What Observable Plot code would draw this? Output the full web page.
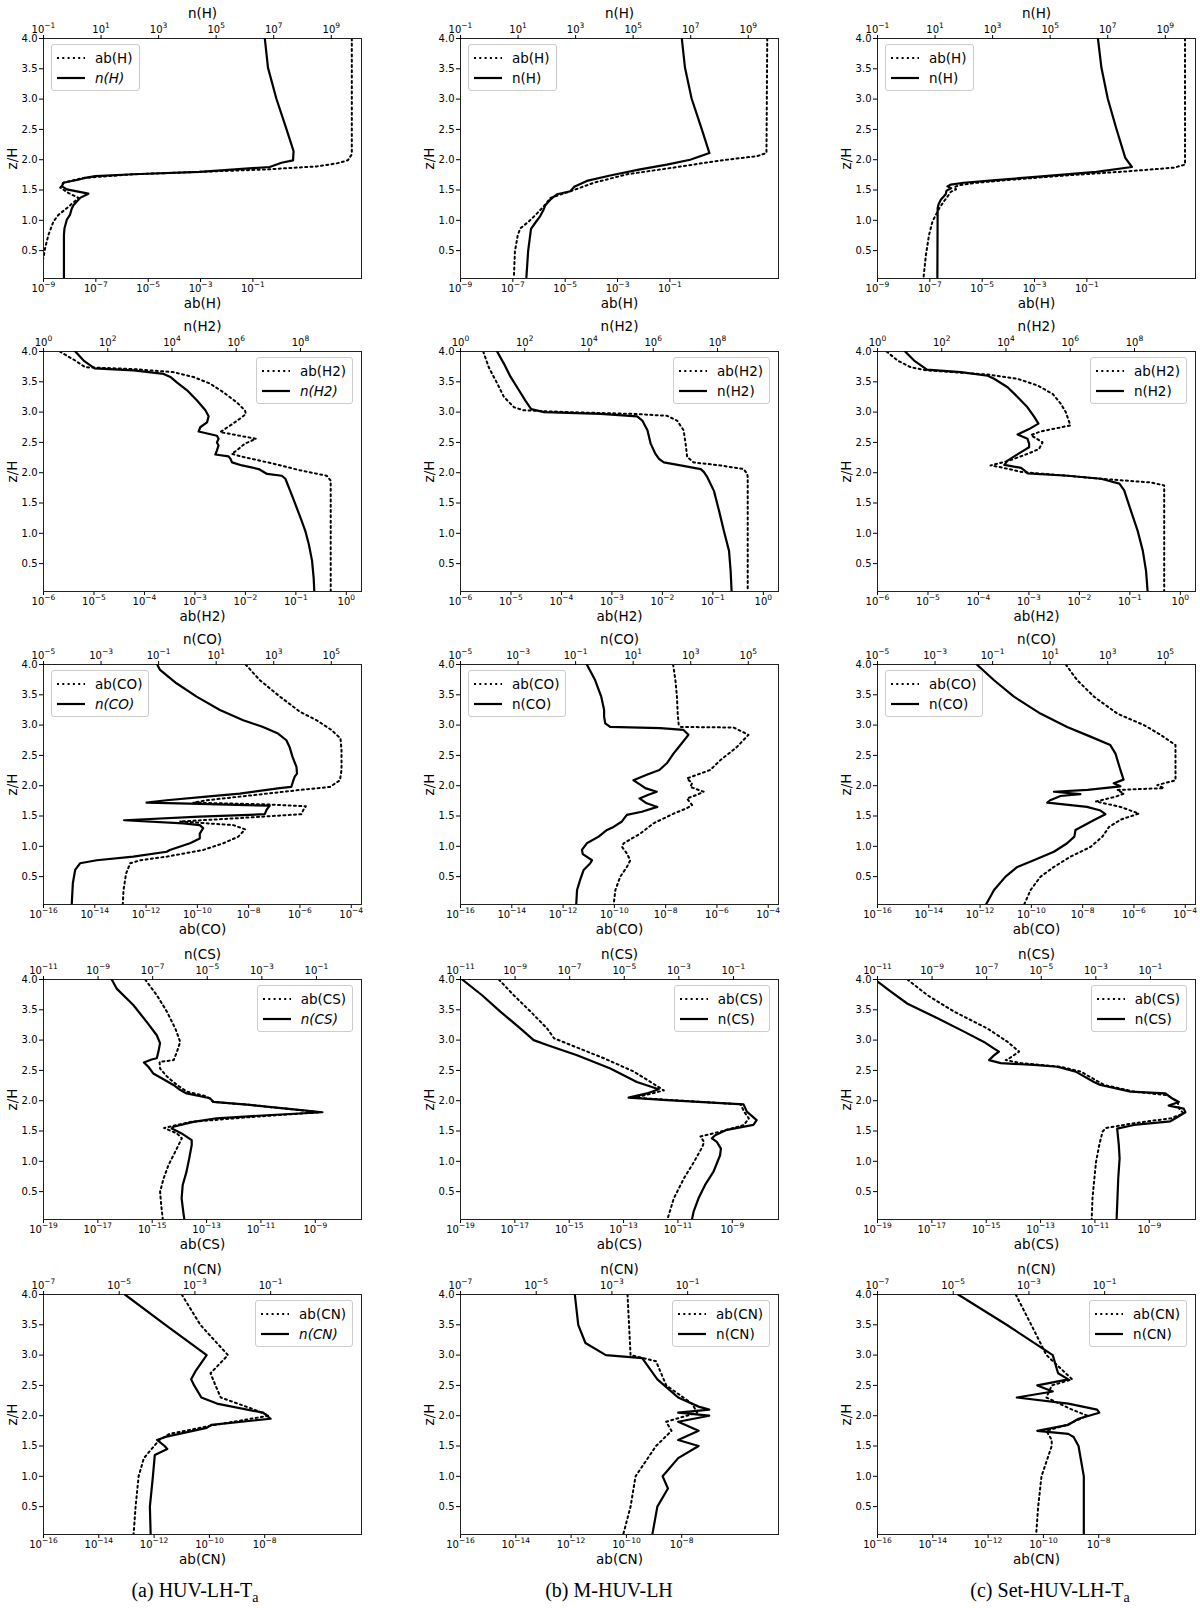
<!DOCTYPE html>
<html><head><meta charset="utf-8">
<script src="https://cdn.jsdelivr.net/npm/d3@7"></script>
<script src="https://cdn.jsdelivr.net/npm/@observablehq/plot@0.6"></script>
<style>
body{margin:0;background:#fff;}
#root{position:relative;width:1200px;height:1608px;font-family:"DejaVu Sans",sans-serif;overflow:hidden;}
.panel{position:absolute;}
.panel > svg{position:absolute;left:0;top:0;}
.panel svg text{font-family:"DejaVu Sans",sans-serif !important;fill:#000;}
g[aria-label="x-axis tick label"] text, g[aria-label="y-axis tick label"] text{font-size:10px !important;}
g[aria-label="x-axis label"] text, g[aria-label="y-axis label"] text{font-size:13.5px !important;}
.legend{position:absolute;background:rgba(255,255,255,0.85);border:1px solid #ccc;border-radius:3px;padding:3px 6px 2px 5px;font-size:13.5px;line-height:20px;color:#000;font-family:"DejaVu Sans",sans-serif;}
.legend .row{display:flex;align-items:center;white-space:nowrap;}
.legend .row svg{margin-right:10px;}
.caption{position:absolute;font-family:"Liberation Serif","Times New Roman",serif;font-size:20px;transform:translateX(-50%);white-space:nowrap;color:#000;}
</style></head>
<body><div id="root"></div>
<script>
// ---------- categories / axis settings (exponents of 10) ----------
const species = ["H", "H2", "CO", "CS", "CN"];
const columns = ["a", "b", "c"];
const captions = ["(a) HUV-LH-T", "(b) M-HUV-LH", "(c) Set-HUV-LH-T"];
const captionSub = ["a", "", "a"];
const abDomainExp = [[-9, 3.15], [-6, 0.3], [-16, -3.6], [-19, -7.3], [-16, -4.5]];
const nDomainExp  = [[-1, 10.05], [0, 9.9], [-5, 6.05], [-11, 0.65], [-7, 1.4]];
const abTickExp = [[-9,-7,-5,-3,-1], [-6,-5,-4,-3,-2,-1,0], [-16,-14,-12,-10,-8,-6,-4], [-19,-17,-15,-13,-11,-9], [-16,-14,-12,-10,-8]];
const nTickExp  = [[-1,1,3,5,7,9], [0,2,4,6,8], [-5,-3,-1,1,3,5], [-11,-9,-7,-5,-3,-1], [-7,-5,-3,-1]];
const zTicks = [0.5, 1.0, 1.5, 2.0, 2.5, 3.0, 3.5, 4.0];
const zDomain = [0.04, 4.0];
const legendSide = ["left", "right", "left", "right", "right"];

// ---------- series: [z/H, log10(value)] ----------
const ab_H_a = [[4.0,2.78],[2.09,2.78],[1.99,2.63],[1.94,2.21],[1.89,1.45],[1.84,-0.47],[1.8,-3.01],[1.76,-5.56],[1.70,-7.47],[1.62,-8.24],[1.54,-8.36],[1.45,-8.04],[1.37,-7.66],[1.32,-7.79],[1.2,-8.11],[1.09,-8.43],[0.98,-8.62],[0.76,-8.81],[0.54,-8.94],[0.38,-9.0],[0.2,-9.15],[0.06,-9.25]];
const n_H_a = [[4.0,6.69],[3.52,6.80],[3.01,7.09],[2.51,7.44],[2.2,7.65],[2.14,7.69],[1.99,7.67],[1.95,7.27],[1.88,6.86],[1.8,4.43],[1.76,2.12],[1.73,0.8],[1.70,0.45],[1.67,0.2],[1.62,-0.31],[1.56,-0.36],[1.51,-0.19],[1.44,0.56],[1.37,0.27],[1.25,0.04],[1.19,-0.02],[1.09,-0.08],[1.01,-0.19],[0.87,-0.27],[0.76,-0.29],[0.06,-0.29]];
const ab_H_b = [[4.0,2.72],[2.11,2.69],[2.06,2.34],[1.98,0.81],[1.87,-0.85],[1.76,-2.63],[1.62,-3.9],[1.48,-4.8],[1.37,-5.56],[1.23,-5.82],[1.09,-6.13],[0.98,-6.39],[0.87,-6.71],[0.76,-6.81],[0.49,-6.92],[0.06,-6.96]];
const n_H_b = [[4.0,6.69],[3.52,6.80],[3.01,7.03],[2.51,7.38],[2.11,7.65],[2.0,6.98],[1.92,6.17],[1.84,5.24],[1.74,4.2],[1.65,3.39],[1.56,2.97],[1.51,2.87],[1.48,2.82],[1.43,2.35],[1.34,2.12],[1.25,1.95],[1.18,1.89],[1.07,1.77],[0.96,1.6],[0.86,1.45],[0.49,1.35],[0.06,1.29]];
const ab_H_c = [[4.0,2.75],[1.92,2.75],[1.87,2.34],[1.81,0.6],[1.74,-1.8],[1.67,-3.9],[1.62,-5.2],[1.58,-5.85],[1.55,-6.07],[1.51,-6.0],[1.47,-6.2],[1.43,-6.26],[1.32,-6.45],[1.2,-6.64],[0.98,-6.9],[0.76,-7.03],[0.43,-7.15],[0.06,-7.24]];
const n_H_c = [[4.0,6.66],[3.52,6.78],[3.01,7.0],[2.51,7.3],[2.03,7.61],[1.88,7.84],[1.80,6.6],[1.72,4.6],[1.66,3.0],[1.62,2.0],[1.59,1.55],[1.56,1.43],[1.53,1.56],[1.49,1.4],[1.43,1.37],[1.34,1.2],[1.26,1.12],[1.2,1.09],[0.06,1.08]];

const ab_H2_a = [[4.0,-5.68],[3.85,-5.37],[3.74,-5.17],[3.71,-4.22],[3.66,-3.43],[3.58,-3.03],[3.47,-2.7],[3.33,-2.44],[3.16,-2.17],[3.03,-2.01],[2.97,-1.99],[2.89,-2.11],[2.78,-2.3],[2.67,-2.5],[2.63,-2.24],[2.56,-1.79],[2.48,-2.01],[2.37,-2.17],[2.31,-2.27],[2.26,-2.04],[2.15,-1.45],[2.04,-0.92],[1.95,-0.39],[1.87,-0.31],[0.04,-0.31]];
const n_H2_a = [[4.0,0.99],[3.85,1.25],[3.72,1.59],[3.69,2.8],[3.63,3.74],[3.58,3.95],[3.49,4.15],[3.36,4.47],[3.19,4.78],[3.03,5.04],[2.93,5.14],[2.83,5.09],[2.75,4.88],[2.68,4.83],[2.61,5.4],[2.56,5.45],[2.5,5.4],[2.45,5.45],[2.37,5.4],[2.3,5.35],[2.27,5.76],[2.23,5.82],[2.17,5.87],[2.12,6.18],[2.06,6.7],[1.98,6.96],[1.95,7.42],[1.9,7.53],[1.7,7.68],[1.48,7.84],[1.26,8.0],[1.04,8.15],[0.82,8.26],[0.55,8.36],[0.27,8.41],[0.04,8.43]];
const ab_H2_b = [[4.0,-5.55],[3.74,-5.44],[3.47,-5.27],[3.25,-5.14],[3.08,-4.94],[3.03,-4.75],[3.0,-3.89],[2.97,-2.57],[2.94,-1.91],[2.86,-1.71],[2.7,-1.58],[2.48,-1.54],[2.26,-1.51],[2.17,-1.38],[2.12,-0.85],[2.06,-0.39],[1.98,-0.32],[1.93,-0.31],[0.04,-0.31]];
const n_H2_b = [[4.0,1.14],[3.8,1.35],[3.58,1.56],[3.36,1.82],[3.19,2.02],[3.05,2.2],[3.0,2.6],[2.97,4.36],[2.93,5.5],[2.86,5.66],[2.7,5.82],[2.48,5.92],[2.31,6.07],[2.23,6.18],[2.17,6.33],[2.12,6.85],[2.06,7.48],[2.01,7.58],[1.93,7.68],[1.7,7.89],[1.37,8.05],[1.04,8.2],[0.71,8.36],[0.38,8.41],[0.04,8.44]];
const ab_H2_c = [[4.0,-5.82],[3.85,-5.6],[3.74,-5.34],[3.69,-5.04],[3.62,-3.82],[3.55,-3.23],[3.44,-2.83],[3.3,-2.53],[3.14,-2.37],[3.0,-2.27],[2.83,-2.2],[2.78,-2.18],[2.68,-2.77],[2.62,-2.96],[2.5,-2.73],[2.39,-2.8],[2.31,-3.03],[2.2,-3.39],[2.12,-3.76],[2.09,-3.56],[2.01,-3.13],[1.95,-2.24],[1.9,-1.58],[1.84,-0.59],[1.79,-0.32],[0.04,-0.32]];
const n_H2_c = [[4.0,0.86],[3.85,1.14],[3.7,1.54],[3.66,2.6],[3.6,3.43],[3.55,3.63],[3.41,4.05],[3.25,4.36],[3.08,4.67],[2.92,4.88],[2.81,5.01],[2.72,4.72],[2.63,4.36],[2.56,4.67],[2.48,4.72],[2.42,4.72],[2.34,4.47],[2.2,4.05],[2.13,3.95],[2.08,4.47],[2.04,4.57],[1.99,4.67],[1.95,5.92],[1.9,6.96],[1.82,7.53],[1.71,7.68],[1.37,7.89],[1.04,8.1],[0.71,8.26],[0.38,8.36],[0.04,8.41]];

const ab_CO_a = [[4.0,-8.12],[3.74,-7.56],[3.47,-6.78],[3.22,-6.0],[3.08,-5.35],[2.92,-4.77],[2.78,-4.42],[2.59,-4.38],[2.26,-4.38],[2.09,-4.44],[1.98,-4.83],[1.93,-6.0],[1.82,-8.34],[1.76,-9.64],[1.72,-10.16],[1.69,-7.17],[1.66,-5.77],[1.6,-5.87],[1.53,-5.94],[1.46,-8.6],[1.41,-10.68],[1.35,-8.6],[1.28,-8.14],[1.16,-8.4],[1.05,-8.99],[0.94,-9.77],[0.83,-11.19],[0.77,-12.23],[0.72,-12.62],[0.55,-12.78],[0.28,-12.88],[0.03,-12.91]];
const n_CO_a = [[4.0,-1.05],[3.91,-0.95],[3.69,-0.38],[3.47,0.32],[3.25,1.13],[3.08,1.94],[2.97,2.63],[2.86,3.15],[2.75,3.44],[2.64,3.55],[2.48,3.65],[2.31,3.79],[2.2,3.81],[2.15,3.73],[2.07,3.67],[1.98,3.61],[1.96,3.21],[1.87,1.82],[1.82,0.66],[1.76,-0.72],[1.72,-1.42],[1.70,0.43],[1.67,2.86],[1.6,2.75],[1.53,2.69],[1.49,0.43],[1.43,-2.2],[1.38,-0.14],[1.35,0.43],[1.3,0.55],[1.21,0.43],[1.13,0.43],[1.05,0.09],[0.94,-0.61],[0.91,-0.72],[0.83,-1.88],[0.77,-3.15],[0.72,-3.73],[0.61,-3.9],[0.39,-3.98],[0.03,-4.02]];
const ab_CO_b = [[4.0,-7.71],[3.74,-7.62],[3.47,-7.56],[3.19,-7.53],[3.0,-7.49],[2.97,-7.4],[2.96,-5.35],[2.84,-4.77],[2.64,-5.22],[2.42,-5.87],[2.26,-6.26],[2.12,-7.17],[2.04,-6.97],[1.98,-7.04],[1.9,-6.52],[1.85,-6.78],[1.79,-7.17],[1.68,-6.97],[1.63,-7.17],[1.54,-7.69],[1.38,-8.47],[1.21,-8.99],[1.05,-9.64],[0.99,-9.7],[0.88,-9.51],[0.77,-9.38],[0.66,-9.51],[0.5,-9.77],[0.28,-9.96],[0.03,-10.03]];
const n_CO_b = [[4.0,-0.61],[3.74,-0.32],[3.47,-0.11],[3.25,-0.01],[3.14,-0.01],[3.03,0.03],[2.97,0.2],[2.95,1.94],[2.92,2.75],[2.84,2.92],[2.7,2.69],[2.53,2.4],[2.37,2.17],[2.26,1.91],[2.18,1.47],[2.09,1.01],[2.01,1.27],[1.96,1.42],[1.9,1.82],[1.85,1.53],[1.79,1.22],[1.71,1.47],[1.65,1.84],[1.57,1.3],[1.52,0.78],[1.41,0.61],[1.32,0.32],[1.27,0.09],[1.16,-0.2],[1.05,-0.61],[0.94,-0.78],[0.87,-0.75],[0.77,-0.43],[0.72,-0.49],[0.61,-0.72],[0.45,-0.84],[0.28,-0.95],[0.03,-0.98]];
const ab_CO_c = [[4.0,-8.66],[3.74,-8.21],[3.47,-7.56],[3.19,-6.65],[3.0,-5.61],[2.84,-4.96],[2.67,-4.38],[2.09,-4.38],[2.01,-5.09],[1.96,-4.83],[1.93,-6.65],[1.87,-6.39],[1.82,-6.71],[1.74,-7.49],[1.65,-6.52],[1.54,-5.81],[1.44,-6.52],[1.32,-6.97],[1.16,-7.23],[0.99,-7.69],[0.83,-8.47],[0.66,-9.12],[0.5,-9.64],[0.28,-10.03],[0.03,-10.29]];
const n_CO_c = [[4.0,-1.55],[3.74,-0.95],[3.47,-0.26],[3.19,0.66],[2.97,1.59],[2.81,2.4],[2.67,3.09],[2.53,3.27],[2.26,3.44],[2.1,3.55],[2.04,3.21],[1.99,3.44],[1.93,2.3],[1.9,1.13],[1.86,2.05],[1.83,1.36],[1.76,1.0],[1.72,0.9],[1.65,2.28],[1.59,2.75],[1.53,2.92],[1.43,2.51],[1.27,1.88],[1.16,1.84],[1.05,1.59],[0.91,1.13],[0.77,0.43],[0.66,-0.14],[0.5,-0.55],[0.28,-0.95],[0.03,-1.24]];

const ab_CS_a = [[4.0,-15.26],[3.74,-14.83],[3.47,-14.46],[3.19,-14.15],[2.97,-13.97],[2.81,-14.09],[2.67,-14.21],[2.64,-14.73],[2.53,-14.71],[2.4,-14.46],[2.26,-14.09],[2.15,-13.72],[2.07,-12.99],[1.98,-12.74],[1.93,-11.39],[1.81,-8.82],[1.73,-11.39],[1.65,-13.6],[1.55,-14.56],[1.46,-14.09],[1.38,-13.91],[1.16,-14.15],[0.94,-14.4],[0.72,-14.58],[0.5,-14.71],[0.28,-14.67],[0.04,-14.61]];
const n_CS_a = [[4.0,-8.5],[3.85,-8.32],[3.58,-7.71],[3.3,-7.22],[3.08,-6.85],[2.95,-6.73],[2.81,-6.79],[2.7,-6.85],[2.68,-7.04],[2.63,-7.32],[2.56,-7.16],[2.45,-6.98],[2.37,-6.67],[2.26,-6.24],[2.18,-6.0],[2.12,-5.76],[2.04,-4.9],[1.98,-4.78],[1.93,-3.44],[1.87,-2.1],[1.81,-0.78],[1.76,-2.83],[1.71,-4.66],[1.65,-5.51],[1.57,-6.24],[1.54,-6.3],[1.46,-5.94],[1.35,-5.57],[1.27,-5.57],[1.05,-5.66],[0.83,-5.76],[0.61,-5.9],[0.39,-5.94],[0.17,-5.88],[0.04,-5.84]];
const ab_CS_b = [[4.0,-17.59],[3.74,-17.04],[3.47,-16.42],[3.19,-15.81],[3.03,-15.56],[2.92,-14.95],[2.7,-13.72],[2.48,-12.62],[2.31,-12.01],[2.17,-11.52],[2.1,-12.13],[2.05,-12.62],[1.94,-8.69],[1.82,-8.57],[1.71,-8.39],[1.6,-8.57],[1.49,-9.43],[1.41,-10.17],[1.32,-10.04],[1.24,-10.1],[0.99,-10.41],[0.72,-10.78],[0.39,-11.15],[0.04,-11.39]];
const n_CS_b = [[4.0,-10.94],[3.74,-10.21],[3.47,-9.54],[3.19,-8.8],[3.0,-8.32],[2.92,-7.83],[2.75,-6.73],[2.53,-5.51],[2.31,-4.54],[2.19,-3.74],[2.12,-4.17],[2.05,-4.84],[2.01,-3.44],[1.94,-0.63],[1.82,-0.51],[1.68,-0.15],[1.6,-0.27],[1.52,-1.24],[1.43,-1.67],[1.38,-1.79],[1.32,-1.61],[1.21,-1.46],[1.1,-1.49],[0.83,-1.73],[0.61,-2.04],[0.39,-2.28],[0.17,-2.46],[0.04,-2.52]];
const ab_CS_c = [[4.0,-17.9],[3.74,-17.16],[3.47,-16.18],[3.19,-14.95],[2.97,-14.21],[2.81,-13.79],[2.7,-14.15],[2.67,-14.28],[2.62,-13.72],[2.56,-12.25],[2.48,-11.52],[2.26,-10.66],[2.15,-9.55],[2.09,-8.33],[1.98,-7.96],[1.87,-7.9],[1.79,-7.74],[1.71,-8.2],[1.63,-9.55],[1.55,-10.6],[1.49,-10.72],[1.27,-10.84],[0.99,-10.96],[0.72,-11.02],[0.39,-11.09],[0.04,-11.12]];
const n_CS_c = [[4.0,-11.1],[3.8,-10.51],[3.6,-9.9],[3.36,-8.8],[3.14,-7.83],[2.97,-7.1],[2.86,-6.73],[2.81,-6.55],[2.75,-6.73],[2.67,-6.91],[2.62,-6.49],[2.59,-5.27],[2.56,-4.41],[2.48,-3.74],[2.31,-3.07],[2.26,-2.83],[2.15,-1.73],[2.12,-0.45],[2.04,-0.21],[1.98,0.04],[1.92,-0.33],[1.87,0.22],[1.81,0.28],[1.76,0.1],[1.66,-0.27],[1.6,-1.61],[1.54,-2.22],[1.27,-2.16],[1.05,-2.13],[0.72,-2.18],[0.04,-2.24]];

const ab_CN_a = [[4.0,-11.0],[3.5,-10.33],[3.0,-9.33],[2.7,-9.96],[2.5,-9.78],[2.3,-9.59],[2.1,-8.37],[2.0,-7.85],[1.85,-9.78],[1.7,-11.44],[1.6,-11.81],[1.3,-12.37],[1.0,-12.56],[0.5,-12.67],[0.05,-12.74]];
const n_CN_a = [[4.0,-4.85],[3.5,-3.78],[3.0,-2.69],[2.75,-2.97],[2.6,-3.1],[2.5,-3.02],[2.3,-2.83],[2.2,-2.42],[2.05,-1.2],[1.95,-1.0],[1.85,-2.56],[1.8,-2.69],[1.65,-3.78],[1.6,-4.0],[1.5,-3.8],[1.45,-3.73],[1.35,-4.06],[1.0,-4.11],[0.5,-4.19],[0.05,-4.17]];
const ab_CN_b = [[4.0,-9.96],[3.0,-9.85],[2.9,-8.93],[2.5,-8.56],[2.2,-7.63],[2.05,-7.44],[1.9,-8.56],[1.75,-8.37],[1.5,-8.93],[1.0,-9.67],[0.5,-9.85],[0.05,-10.11]];
const n_CN_b = [[4.0,-3.98],[3.5,-3.89],[3.2,-3.7],[3.0,-3.16],[2.95,-2.2],[2.6,-1.8],[2.3,-1.25],[2.15,-0.71],[2.1,-0.43],[2.05,-1.25],[2.0,-0.43],[1.9,-1.25],[1.75,-0.71],[1.6,-1.25],[1.5,-0.71],[1.3,-1.25],[1.0,-1.66],[0.8,-1.52],[0.5,-1.8],[0.05,-1.93]];
const ab_CN_c = [[4.0,-11.0],[3.5,-10.44],[3.0,-9.89],[2.6,-8.96],[2.5,-9.7],[2.3,-9.89],[2.1,-8.96],[2.0,-8.41],[1.85,-9.15],[1.75,-9.89],[1.6,-9.7],[1.5,-9.7],[1.0,-10.07],[0.5,-10.19],[0.05,-10.26]];
const n_CN_c = [[4.0,-4.87],[3.5,-3.59],[3.0,-2.37],[2.7,-2.23],[2.6,-1.96],[2.5,-2.78],[2.4,-2.37],[2.3,-3.32],[2.2,-1.96],[2.1,-1.2],[2.05,-1.14],[1.95,-1.69],[1.85,-1.96],[1.75,-2.78],[1.7,-1.96],[1.65,-1.82],[1.5,-1.69],[1.0,-1.55],[0.5,-1.55],[0.05,-1.55]];

const abSeries = [[ab_H_a, ab_H_b, ab_H_c], [ab_H2_a, ab_H2_b, ab_H2_c], [ab_CO_a, ab_CO_b, ab_CO_c], [ab_CS_a, ab_CS_b, ab_CS_c], [ab_CN_a, ab_CN_b, ab_CN_c]];
const nSeries  = [[n_H_a, n_H_b, n_H_c], [n_H2_a, n_H2_b, n_H2_c], [n_CO_a, n_CO_b, n_CO_c], [n_CS_a, n_CS_b, n_CS_c], [n_CN_a, n_CN_b, n_CN_c]];

// ---------- layout ----------
const W = 318, H = 240, ML = 43, MT = 38, MR = 7, MB = 36;
const colLeft = [43, 460, 877];
const rowTop = [38, 351, 664, 979, 1294];
const captionX = [195, 609, 1050];
const captionY = 1579;

const fmtPow = v => "10^" + Math.round(Math.log10(v));
const pw = e => Math.pow(10, e);
const baseStyle = {background: "transparent", fontFamily: "DejaVu Sans, sans-serif", fontSize: "10px", color: "black", overflow: "visible"};
const dotted = "2,3.3";
const SVGNS = "http://www.w3.org/2000/svg";

// render "10^-9" tick labels as 10 with a raised, smaller exponent (like mathtext)
function raiseExponents(svg) {
  svg.querySelectorAll('g[aria-label="x-axis tick label"] text').forEach(t => {
    const s = t.textContent;
    const i = s.indexOf("^");
    if (i < 0) return;
    const base = s.slice(0, i), ex = s.slice(i + 1).replace("-", "\u2212");
    while (t.firstChild) t.removeChild(t.firstChild);
    t.appendChild(document.createTextNode(base));
    const ts = document.createElementNS(SVGNS, "tspan");
    ts.setAttribute("dy", "-4.5");
    ts.setAttribute("font-size", "7.5");
    ts.style.fontSize = "7.5px";
    ts.textContent = ex;
    t.appendChild(ts);
  });
}

const root = document.getElementById("root");

species.forEach((sp, r) => {
  columns.forEach((col, c) => {
    const div = document.createElement("div");
    div.className = "panel";
    div.style.left = (colLeft[c] - ML) + "px";
    div.style.top = (rowTop[r] - MT) + "px";
    div.style.width = (ML + W + MR) + "px";
    div.style.height = (MT + H + MB) + "px";

    const common = {width: ML + W + MR, height: MT + H + MB, marginLeft: ML, marginRight: MR, marginTop: MT, marginBottom: MB, style: baseStyle};

    const base = Plot.plot({
      ...common,
      x: {type: "log", domain: abDomainExp[r].map(pw)},
      y: {domain: zDomain},
      marks: [
        Plot.axisY({ticks: zTicks, tickFormat: d => d.toFixed(1), tickSize: 4, tickPadding: 2, label: "z/H", labelAnchor: "center", labelOffset: 36, labelArrow: "none"}),
        Plot.axisX({anchor: "bottom", ticks: abTickExp[r].map(pw), tickFormat: fmtPow, tickSize: 4, tickPadding: 2, label: `ab(${sp})`, labelAnchor: "center", labelOffset: 29, labelArrow: "none"}),
        Plot.line(abSeries[r][c], {x: d => pw(d[1]), y: d => d[0], stroke: "black", strokeWidth: 2, strokeDasharray: dotted, clip: true}),
        Plot.frame({stroke: "#222", strokeWidth: 1})
      ]
    });
    const top = Plot.plot({
      ...common,
      x: {type: "log", domain: nDomainExp[r].map(pw)},
      y: {domain: zDomain, axis: null},
      marks: [
        Plot.axisX({anchor: "top", ticks: nTickExp[r].map(pw), tickFormat: fmtPow, tickSize: 4, tickPadding: 2, label: `n(${sp})`, labelAnchor: "center", labelOffset: 30, labelArrow: "none"}),
        Plot.line(nSeries[r][c], {x: d => pw(d[1]), y: d => d[0], stroke: "black", strokeWidth: 2.2, clip: true})
      ]
    });
    raiseExponents(base);
    raiseExponents(top);
    div.appendChild(base);
    div.appendChild(top);

    const leg = document.createElement("div");
    leg.className = "legend";
    if (legendSide[r] === "left") leg.style.left = (ML + 8) + "px"; else leg.style.right = (MR + 8) + "px";
    leg.style.top = (MT + 6) + "px";
    const italic = c === 0 ? "font-style:italic;" : "";
    leg.innerHTML =
      `<div class="row"><svg width="28" height="8"><line x1="0" y1="4" x2="28" y2="4" stroke="black" stroke-width="2" stroke-dasharray="${dotted}"/></svg><span>ab(${sp})</span></div>` +
      `<div class="row"><svg width="28" height="8"><line x1="0" y1="4" x2="28" y2="4" stroke="black" stroke-width="2.2"/></svg><span style="${italic}">n(${sp})</span></div>`;
    div.appendChild(leg);
    root.appendChild(div);
  });
});

captions.forEach((t, i) => {
  const d = document.createElement("div");
  d.className = "caption";
  d.style.left = captionX[i] + "px";
  d.style.top = captionY + "px";
  d.innerHTML = t + (captionSub[i] ? `<sub style="font-size:14px">${captionSub[i]}</sub>` : "");
  root.appendChild(d);
});
</script>
</body></html>
